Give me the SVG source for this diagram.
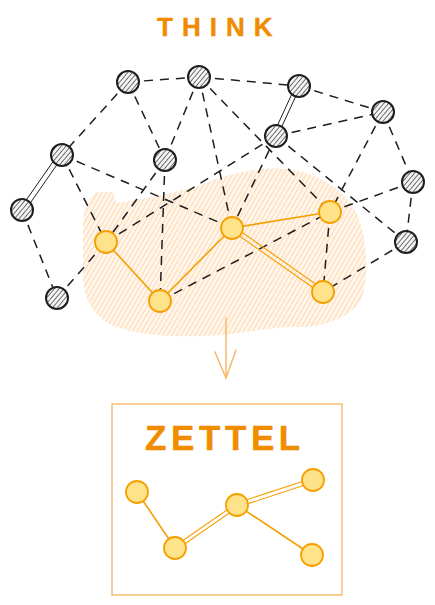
<svg xmlns="http://www.w3.org/2000/svg" width="435" height="605" viewBox="0 0 435 605">
<style>
.title{font-family:"Liberation Sans",Arial,sans-serif;font-weight:bold;fill:#f08c00;stroke:#f08c00;stroke-width:0.4;stroke-linejoin:round}
.dash{stroke:#1e1e1e;stroke-width:1.5;stroke-dasharray:9 7;fill:none}
.solid{stroke:#1e1e1e;stroke-width:1;fill:none}
.oline{stroke:#f59f00;stroke-width:1.6;fill:none}
.oline2{stroke:#f59f00;stroke-width:1.1;fill:none}
.gnode{fill:url(#ghatch);stroke:#1e1e1e;stroke-width:2}
.onode{fill:#ffe38a;stroke:#f59f00;stroke-width:1.8}
</style>
<defs>
<pattern id="ghatch" width="3.6" height="3.6" patternUnits="userSpaceOnUse" patternTransform="rotate(40)">
<rect width="3.6" height="3.6" fill="#f4f4f4"/>
<line x1="0" y1="0" x2="0" y2="3.6" stroke="#444" stroke-width="1.5"/>
</pattern>
<pattern id="ohatch" width="4" height="4" patternUnits="userSpaceOnUse" patternTransform="rotate(30)">
<line x1="0" y1="0" x2="0" y2="4" stroke="#fbcf9b" stroke-width="1.4"/>
</pattern>
</defs>
<rect width="435" height="605" fill="#ffffff"/>

<g id="blob">
<path d="M83,232 C82,210 88,196 98,192 L113,192 L116,203 C140,200 178,193 208,182 C233,173 258,167 284,169 C318,172 344,189 357,214 C368,240 369,279 361,300 C351,318 322,327 300,327 C272,326 250,333 220,335 C180,338 140,336 114,326 C95,318 84,300 83,280 Z" fill="#fff5ea"/>
<path d="M83,232 C82,210 88,196 98,192 L113,192 L116,203 C140,200 178,193 208,182 C233,173 258,167 284,169 C318,172 344,189 357,214 C368,240 369,279 361,300 C351,318 322,327 300,327 C272,326 250,333 220,335 C180,338 140,336 114,326 C95,318 84,300 83,280 Z" fill="url(#ohatch)"/>
</g>

<text id="think" class="title" x="157" y="36" font-size="26" letter-spacing="9">THINK</text>

<g id="connectors">
<!-- dashed gray -->
<line class="dash" x1="128" y1="82" x2="199" y2="77"/>
<line class="dash" x1="128" y1="82" x2="62" y2="155"/>
<line class="dash" x1="128" y1="82" x2="165" y2="160"/>
<line class="dash" x1="199" y1="77" x2="299" y2="86"/>
<line class="dash" x1="199" y1="77" x2="165" y2="160"/>
<line class="dash" x1="199" y1="77" x2="232" y2="228"/>
<line class="dash" x1="199" y1="77" x2="330" y2="212"/>
<line class="dash" x1="299" y1="86" x2="383" y2="112"/>
<line class="dash" x1="276" y1="136" x2="383" y2="112"/>
<line class="dash" x1="276" y1="136" x2="406" y2="242"/>
<line class="dash" x1="276" y1="136" x2="232" y2="228"/>
<line class="dash" x1="276" y1="136" x2="106" y2="242"/>
<line class="dash" x1="383" y1="112" x2="413" y2="182"/>
<line class="dash" x1="383" y1="112" x2="330" y2="212"/>
<line class="dash" x1="62" y1="155" x2="106" y2="242"/>
<line class="dash" x1="62" y1="155" x2="232" y2="228"/>
<line class="dash" x1="165" y1="160" x2="106" y2="242"/>
<line class="dash" x1="165" y1="160" x2="160" y2="301"/>
<line class="dash" x1="22" y1="210" x2="57" y2="298"/>
<line class="dash" x1="57" y1="298" x2="106" y2="242"/>
<line class="dash" x1="413" y1="182" x2="406" y2="242"/>
<line class="dash" x1="413" y1="182" x2="330" y2="212"/>
<line class="dash" x1="406" y1="242" x2="323" y2="292"/>
<line class="dash" x1="330" y1="212" x2="323" y2="292"/>
<line class="dash" x1="160" y1="301" x2="330" y2="212"/>
<!-- solid double gray -->
<line class="solid" x1="296" y1="85" x2="273" y2="135"/>
<line class="solid" x1="300" y1="87" x2="277" y2="137"/>
<line class="solid" x1="59" y1="153" x2="20" y2="209"/>
<line class="solid" x1="63" y1="156" x2="24" y2="212"/>
<!-- orange -->
<line class="oline" x1="106" y1="242" x2="160" y2="301"/>
<line class="oline" x1="160" y1="301" x2="232" y2="228"/>
<line class="oline" x1="232" y1="228" x2="330" y2="212"/>
<line class="oline2" x1="233" y1="226" x2="324" y2="290"/>
<line class="oline2" x1="231" y1="230" x2="322" y2="294"/>
<!-- arrow -->
<g stroke="#f5b461" stroke-width="1.4" fill="none" stroke-linecap="round">
<line x1="226" y1="318" x2="226" y2="378"/>
<line x1="215" y1="352" x2="226" y2="378"/>
<line x1="236" y1="350" x2="226" y2="378"/>
</g>
<!-- zettel edges -->
<line class="oline" x1="137" y1="492" x2="175" y2="548"/>
<line class="oline2" x1="175" y1="546" x2="237" y2="503"/>
<line class="oline2" x1="176" y1="550" x2="238" y2="507"/>
<line class="oline2" x1="237" y1="503" x2="313" y2="478"/>
<line class="oline2" x1="238" y1="507" x2="314" y2="482"/>
<line class="oline" x1="237" y1="505" x2="312" y2="555"/>
</g>

<g id="n-A"><circle class="gnode" cx="128" cy="82" r="11"/></g>
<g id="n-B"><circle class="gnode" cx="199" cy="77" r="11"/></g>
<g id="n-C"><circle class="gnode" cx="299" cy="86" r="11"/></g>
<g id="n-D"><circle class="gnode" cx="276" cy="136" r="11"/></g>
<g id="n-E"><circle class="gnode" cx="383" cy="112" r="11"/></g>
<g id="n-F"><circle class="gnode" cx="62" cy="155" r="11"/></g>
<g id="n-G"><circle class="gnode" cx="165" cy="160" r="11"/></g>
<g id="n-H"><circle class="gnode" cx="22" cy="210" r="11"/></g>
<g id="n-I"><circle class="gnode" cx="413" cy="182" r="11"/></g>
<g id="n-J"><circle class="gnode" cx="406" cy="242" r="11"/></g>
<g id="n-K"><circle class="gnode" cx="57" cy="298" r="11"/></g>

<g id="n-O1"><circle class="onode" cx="106" cy="242" r="11"/></g>
<g id="n-O2"><circle class="onode" cx="160" cy="301" r="11"/></g>
<g id="n-O3"><circle class="onode" cx="232" cy="228" r="11"/></g>
<g id="n-O4"><circle class="onode" cx="330" cy="212" r="11"/></g>
<g id="n-O5"><circle class="onode" cx="323" cy="292" r="11"/></g>

<g id="zettel">
<rect x="112" y="404" width="230" height="191" fill="none" stroke="#f5b461" stroke-width="1.3"/>
<text class="title" x="145" y="450" font-size="35" letter-spacing="4.6">ZETTEL</text>
</g>
<g id="z-1"><circle class="onode" cx="137" cy="492" r="11"/></g>
<g id="z-2"><circle class="onode" cx="175" cy="548" r="11"/></g>
<g id="z-3"><circle class="onode" cx="237" cy="505" r="11"/></g>
<g id="z-4"><circle class="onode" cx="313" cy="480" r="11"/></g>
<g id="z-5"><circle class="onode" cx="312" cy="555" r="11"/></g>
</svg>
